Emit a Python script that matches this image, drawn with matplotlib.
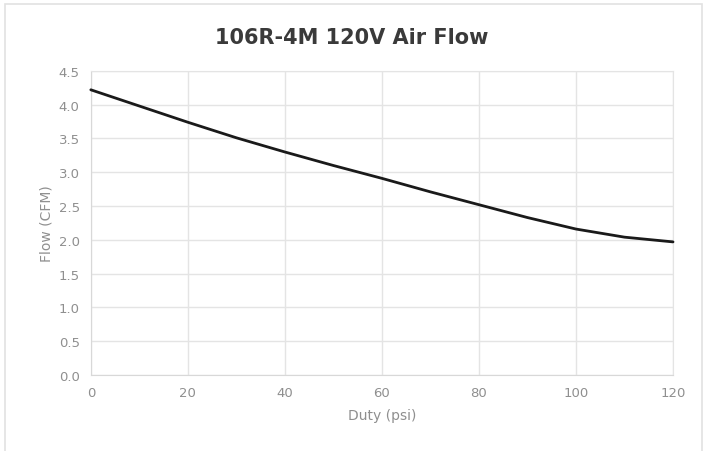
import matplotlib
matplotlib.use("Agg")
import matplotlib.pyplot as plt
from matplotlib.patches import Rectangle

# Data
duty_psi = [0, 10, 20, 30, 40, 50, 60, 70, 80, 90, 100, 110, 120]
flow_cfm = [4.22, 3.98, 3.74, 3.51, 3.30, 3.10, 2.91, 2.71, 2.52, 2.33, 2.16, 2.04, 1.97]
x_ticks = [0, 20, 40, 60, 80, 100, 120]
y_ticks = [0.0, 0.5, 1.0, 1.5, 2.0, 2.5, 3.0, 3.5, 4.0, 4.5]

fig = plt.figure(figsize=(7.04, 4.52), dpi=100)
fig.patch.set_facecolor("white")

# light outer frame
fig.patches.append(Rectangle((0.007, -0.02), 0.99, 1.009, transform=fig.transFigure,
                             fill=False, edgecolor="#e2e2e2", linewidth=1.2))

ax = fig.add_axes([0.129, 0.168, 0.827, 0.673])
ax.plot(duty_psi, flow_cfm, color="#1a1a1a", linewidth=2.0, solid_capstyle="round",
        clip_on=False, zorder=3)

ax.set_xlim(0, 120)
ax.set_ylim(0, 4.5)
ax.set_xticks(x_ticks)
ax.set_yticks(y_ticks)
ax.set_yticklabels([f"{v:.1f}" for v in y_ticks])
ax.grid(True, color="#e4e4e4", linewidth=1.0)
ax.set_axisbelow(True)

for side in ["top", "right"]:
    ax.spines[side].set_color("#e4e4e4")
for side in ["left", "bottom"]:
    ax.spines[side].set_color("#d8d8d8")
ax.tick_params(length=0, colors="#8f8f8f", labelsize=9.5, pad=8)

ax.set_xlabel("Duty (psi)", color="#8f8f8f", fontsize=10, labelpad=6)
ax.set_ylabel("Flow (CFM)", color="#8f8f8f", fontsize=10, labelpad=4)

fig.text(0.5, 0.915, "106R-4M 120V Air Flow", ha="center", va="center",
         fontsize=15, fontweight="bold", color="#3a3a3a")

fig.savefig("out.png", dpi=100)
